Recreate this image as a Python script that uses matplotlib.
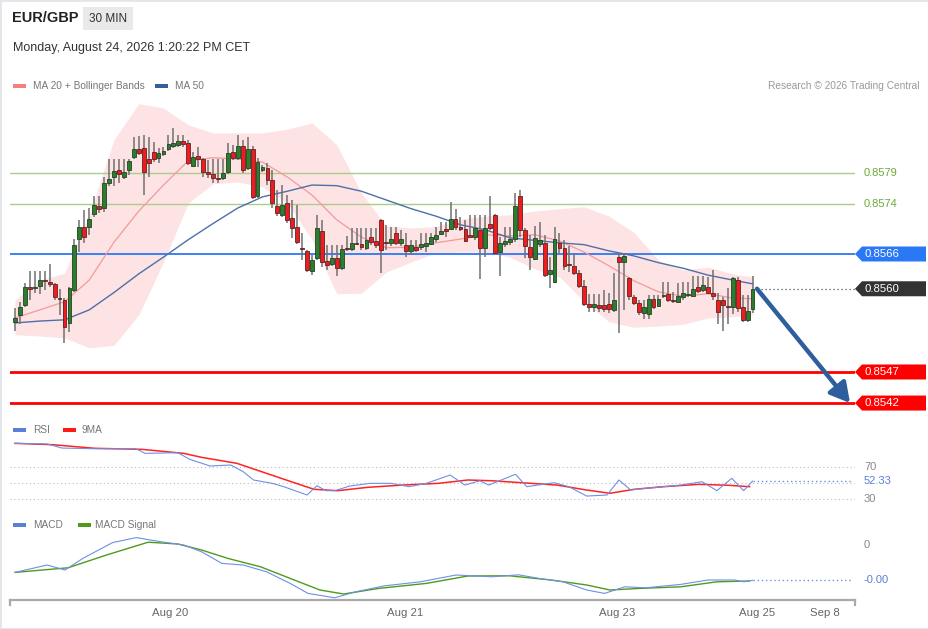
import numpy as np
import matplotlib
matplotlib.use('Agg')
import matplotlib.pyplot as plt
from matplotlib.patches import Rectangle, Polygon

plt.rcParams['font.family'] = ['Liberation Sans', 'DejaVu Sans']

# ---------------- data (30 min candles) ----------------
opens = [0.85551, 0.85562, 0.85578, 0.85607, 0.85605, 0.85609, 0.85617, 0.85615, 0.85612, 0.85589,
         0.85586, 0.85549, 0.85602, 0.85684, 0.85704, 0.85704, 0.85724, 0.85737, 0.85734, 0.85774,
         0.85784, 0.85795, 0.85784, 0.85795, 0.85816, 0.85829, 0.85831, 0.85813, 0.85824, 0.85815,
         0.85821, 0.85829, 0.85834, 0.85836, 0.85842, 0.85839, 0.85802, 0.85818, 0.85813, 0.85792,
         0.85789, 0.85782, 0.85782, 0.85792, 0.85824, 0.85815, 0.85834, 0.85799, 0.85829, 0.85753,
         0.85795, 0.85799, 0.85779, 0.85737, 0.85723, 0.85742, 0.85718, 0.85704, 0.85670, 0.85665,
         0.85633, 0.85654, 0.85697, 0.85649, 0.85644, 0.85654, 0.85638, 0.85670, 0.85668, 0.85678,
         0.85676, 0.85670, 0.85687, 0.85681, 0.85715, 0.85679, 0.85678, 0.85694, 0.85678, 0.85675,
         0.85665, 0.85671, 0.85671, 0.85673, 0.85676, 0.85684, 0.85692, 0.85700, 0.85700, 0.85716,
         0.85704, 0.85700, 0.85690, 0.85687, 0.85699, 0.85670, 0.85708, 0.85723, 0.85663, 0.85676,
         0.85679, 0.85684, 0.85753, 0.85699, 0.85671, 0.85652, 0.85676, 0.85678, 0.85628, 0.85615,
         0.85678, 0.85670, 0.85644, 0.85641, 0.85629, 0.85609, 0.85580, 0.85575, 0.85578, 0.85578,
         0.85580, 0.85570, 0.85655, 0.85647, 0.85621, 0.85591, 0.85581, 0.85565, 0.85563, 0.85588,
         0.85576, 0.85592, 0.85596, 0.85586, 0.85583, 0.85591, 0.85594, 0.85592, 0.85607, 0.85602,
         0.85607, 0.85597, 0.85586, 0.85586, 0.85576, 0.85575, 0.85618, 0.85575, 0.85554, 0.85571]

highs = [0.85573, 0.85583, 0.85613, 0.85633, 0.85633, 0.85633, 0.85633, 0.85644, 0.85613, 0.85604,
         0.85589, 0.85607, 0.85684, 0.85715, 0.85731, 0.85734, 0.85753, 0.85753, 0.85784, 0.85813,
         0.85813, 0.85813, 0.85813, 0.85813, 0.85848, 0.85850, 0.85852, 0.85848, 0.85840, 0.85831,
         0.85832, 0.85852, 0.85863, 0.85852, 0.85852, 0.85844, 0.85824, 0.85832, 0.85815, 0.85811,
         0.85813, 0.85813, 0.85813, 0.85839, 0.85836, 0.85852, 0.85844, 0.85848, 0.85834, 0.85815,
         0.85803, 0.85807, 0.85795, 0.85763, 0.85771, 0.85755, 0.85747, 0.85739, 0.85694, 0.85666,
         0.85658, 0.85723, 0.85715, 0.85675, 0.85675, 0.85675, 0.85675, 0.85689, 0.85702, 0.85702,
         0.85702, 0.85702, 0.85702, 0.85702, 0.85716, 0.85707, 0.85704, 0.85704, 0.85699, 0.85694,
         0.85683, 0.85683, 0.85694, 0.85694, 0.85694, 0.85704, 0.85712, 0.85712, 0.85744, 0.85733,
         0.85720, 0.85715, 0.85723, 0.85723, 0.85723, 0.85723, 0.85753, 0.85724, 0.85687, 0.85704,
         0.85704, 0.85758, 0.85763, 0.85702, 0.85691, 0.85705, 0.85712, 0.85691, 0.85655, 0.85704,
         0.85694, 0.85683, 0.85673, 0.85662, 0.85634, 0.85618, 0.85596, 0.85596, 0.85596, 0.85602,
         0.85597, 0.85629, 0.85662, 0.85662, 0.85623, 0.85594, 0.85586, 0.85586, 0.85594, 0.85594,
         0.85594, 0.85615, 0.85615, 0.85599, 0.85613, 0.85615, 0.85615, 0.85625, 0.85625, 0.85625,
         0.85623, 0.85634, 0.85597, 0.85591, 0.85605, 0.85623, 0.85623, 0.85594, 0.85594, 0.85625]

lows = [0.85536, 0.85547, 0.85575, 0.85586, 0.85597, 0.85596, 0.85602, 0.85607, 0.85586, 0.85562,
        0.85517, 0.85534, 0.85599, 0.85663, 0.85678, 0.85691, 0.85720, 0.85726, 0.85728, 0.85770,
        0.85770, 0.85774, 0.85781, 0.85787, 0.85813, 0.85819, 0.85755, 0.85784, 0.85808, 0.85807,
        0.85818, 0.85826, 0.85831, 0.85832, 0.85832, 0.85803, 0.85800, 0.85800, 0.85784, 0.85782,
        0.85774, 0.85774, 0.85779, 0.85789, 0.85811, 0.85811, 0.85790, 0.85795, 0.85749, 0.85750,
        0.85792, 0.85771, 0.85734, 0.85721, 0.85720, 0.85710, 0.85686, 0.85676, 0.85650, 0.85631,
        0.85626, 0.85650, 0.85639, 0.85634, 0.85641, 0.85625, 0.85634, 0.85665, 0.85665, 0.85675,
        0.85666, 0.85666, 0.85675, 0.85670, 0.85629, 0.85666, 0.85673, 0.85675, 0.85673, 0.85655,
        0.85658, 0.85663, 0.85666, 0.85663, 0.85675, 0.85679, 0.85691, 0.85687, 0.85699, 0.85699,
        0.85697, 0.85679, 0.85687, 0.85683, 0.85620, 0.85655, 0.85699, 0.85660, 0.85625, 0.85671,
        0.85675, 0.85679, 0.85687, 0.85654, 0.85634, 0.85650, 0.85671, 0.85623, 0.85605, 0.85613,
        0.85662, 0.85634, 0.85631, 0.85626, 0.85605, 0.85576, 0.85567, 0.85567, 0.85567, 0.85567,
        0.85565, 0.85567, 0.85533, 0.85570, 0.85586, 0.85578, 0.85562, 0.85555, 0.85555, 0.85571,
        0.85575, 0.85589, 0.85583, 0.85581, 0.85581, 0.85586, 0.85591, 0.85591, 0.85597, 0.85599,
        0.85597, 0.85586, 0.85547, 0.85536, 0.85547, 0.85563, 0.85567, 0.85551, 0.85551, 0.85565]

closes = [0.85557, 0.85575, 0.85607, 0.85604, 0.85607, 0.85618, 0.85616, 0.85612, 0.85591, 0.85588,
          0.85542, 0.85605, 0.85675, 0.85704, 0.85687, 0.85716, 0.85739, 0.85733, 0.85774, 0.85781,
          0.85794, 0.85789, 0.85792, 0.85810, 0.85829, 0.85823, 0.85792, 0.85807, 0.85813, 0.85823,
          0.85826, 0.85837, 0.85839, 0.85842, 0.85837, 0.85807, 0.85816, 0.85813, 0.85792, 0.85789,
          0.85782, 0.85781, 0.85790, 0.85823, 0.85815, 0.85834, 0.85795, 0.85829, 0.85752, 0.85808,
          0.85800, 0.85779, 0.85742, 0.85726, 0.85739, 0.85715, 0.85702, 0.85679, 0.85668, 0.85634,
          0.85650, 0.85702, 0.85647, 0.85642, 0.85654, 0.85638, 0.85668, 0.85668, 0.85678, 0.85676,
          0.85671, 0.85683, 0.85679, 0.85675, 0.85666, 0.85678, 0.85684, 0.85678, 0.85684, 0.85665,
          0.85675, 0.85666, 0.85676, 0.85678, 0.85687, 0.85691, 0.85697, 0.85697, 0.85716, 0.85704,
          0.85700, 0.85681, 0.85688, 0.85702, 0.85670, 0.85702, 0.85702, 0.85662, 0.85678, 0.85681,
          0.85684, 0.85737, 0.85699, 0.85673, 0.85655, 0.85686, 0.85683, 0.85626, 0.85634, 0.85684,
          0.85670, 0.85641, 0.85642, 0.85629, 0.85609, 0.85580, 0.85575, 0.85580, 0.85573, 0.85571,
          0.85571, 0.85586, 0.85647, 0.85657, 0.85592, 0.85581, 0.85567, 0.85575, 0.85588, 0.85575,
          0.85588, 0.85594, 0.85586, 0.85584, 0.85592, 0.85597, 0.85596, 0.85604, 0.85600, 0.85610,
          0.85597, 0.85592, 0.85567, 0.85578, 0.85575, 0.85621, 0.85573, 0.85554, 0.85568, 0.85604]

# indicator lines, sampled every 5 candles
ind_idx = [0, 5, 10, 15, 20, 25, 30, 35, 40, 45, 50, 55, 60, 65, 70, 75, 80, 85, 90, 95,
           100, 105, 110, 115, 120, 125, 130, 135, 140, 145, 149]
ma20 = [0.85557, 0.85570, 0.85583, 0.85618, 0.85679, 0.85729, 0.85771, 0.85810, 0.85815, 0.85813,
        0.85808, 0.85784, 0.85755, 0.85715, 0.85687, 0.85670, 0.85671, 0.85678, 0.85684, 0.85691,
        0.85689, 0.85691, 0.85681, 0.85663, 0.85641, 0.85617, 0.85599, 0.85592, 0.85596, 0.85589, 0.85588]
ma50 = [0.85549, 0.85552, 0.85554, 0.85570, 0.85598, 0.85628, 0.85655, 0.85683, 0.85709, 0.85734,
        0.85752, 0.85761, 0.85771, 0.85770, 0.85761, 0.85747, 0.85733, 0.85721, 0.85707, 0.85699,
        0.85686, 0.85682, 0.85678, 0.85675, 0.85665, 0.85657, 0.85646, 0.85637, 0.85626, 0.85618, 0.85612]
bb_upper = [0.85586, 0.85618, 0.85629, 0.85723, 0.85844, 0.85902, 0.85895, 0.85868, 0.85855, 0.85855,
            0.85855, 0.85861, 0.85871, 0.85836, 0.85758, 0.85705, 0.85702, 0.85704, 0.85716, 0.85721,
            0.85723, 0.85729, 0.85733, 0.85736, 0.85721, 0.85695, 0.85650, 0.85634, 0.85639, 0.85628, 0.85623]
bb_lower = [0.85530, 0.85528, 0.85525, 0.85509, 0.85513, 0.85562, 0.85647, 0.85742, 0.85773, 0.85776,
            0.85768, 0.85742, 0.85683, 0.85596, 0.85597, 0.85631, 0.85647, 0.85662, 0.85663, 0.85663,
            0.85655, 0.85636, 0.85623, 0.85583, 0.85551, 0.85542, 0.85544, 0.85547, 0.85557, 0.85559, 0.85562]

rsi_x = [0, 6.5, 9.5, 16, 24.4, 26.3, 32.9, 35.3, 39.4, 43.6, 46.1, 48.2, 52, 54.3, 59, 61, 62.8,
         64.6, 67.6, 71.7, 76, 79.6, 83.1, 87.9, 90.9, 93.9, 95.7, 101.1, 103.4, 108.9, 111.9,
         115.5, 119.6, 122, 124.4, 127.4, 131, 134.5, 138.8, 141.8, 144.8, 147.2, 149]
rsi = [98.7, 97.9, 92.9, 92.1, 92.1, 86.4, 87.2, 79.1, 70.9, 72.1, 63.9, 53.7, 49.6, 45.5, 35.3,
       46.7, 40.6, 40.6, 46.3, 49.6, 49.6, 45.5, 49.6, 59.8, 47.5, 52.8, 47.5, 60.7, 45.5, 50.4,
       45.5, 34.0, 35.3, 53.7, 41.4, 43.5, 45.5, 47.5, 51.6, 40.6, 55.8, 40.6, 52.33]
ma9_x = [0, 7.7, 16.1, 25.7, 34.1, 37.7, 44.8, 50.8, 56.8, 60.4, 65.2, 71.2, 78.3, 85.5, 91.5,
         96.3, 102.3, 109.5, 115.5, 120.2, 125.1, 131, 138.2, 144.2, 148.4]
rsi_ma9 = [98.7, 97.0, 92.6, 91.3, 86.4, 81.5, 74.2, 61.9, 49.6, 42.3, 40.6, 44.7, 47.5, 49.6, 53.7,
           52.8, 50.4, 47.5, 41.4, 37.4, 42.3, 45.5, 48.4, 47.2, 45.5]

macd_x = [0, 6.5, 10.1, 13.7, 19.7, 24.5, 29.3, 34.1, 37.7, 41.8, 46.1, 50.8, 55.6, 59.2, 64.6,
          68.8, 74.7, 81.9, 89.1, 96.3, 101.7, 105.9, 110.7, 115.5, 119.1, 123.2, 127.4, 134.5,
          140, 145.4, 147.2, 149]
macd = [-0.000137, -0.000100, -0.000125, -0.000067, 0.000012, 0.000037, 0.000017, 0.0, -0.000034,
        -0.000092, -0.000100, -0.000134, -0.000192, -0.000242, -0.000264, -0.000234, -0.000204,
        -0.000184, -0.000150, -0.000159, -0.000149, -0.000167, -0.000184, -0.000225, -0.000242,
        -0.000209, -0.000214, -0.000197, -0.000175, -0.000175, -0.000184, -0.000177]
sig_x = [0, 10.7, 18.5, 26.9, 32.9, 37.7, 43, 49.6, 55.6, 61.6, 66.4, 73.5, 83.1, 91.5, 99.9,
         108.3, 115.5, 120.2, 126.2, 134.5, 141.8, 148.4]
macd_signal = [-0.000137, -0.000114, -0.000050, 0.000014, 0.000005, -0.000025, -0.000067, -0.000109,
               -0.000167, -0.000225, -0.000245, -0.000217, -0.000192, -0.000155, -0.000154, -0.000175,
               -0.000200, -0.000225, -0.000217, -0.000209, -0.000184, -0.000180]

green_levels = [0.8579, 0.8574]
pivot = 0.8566
targets = [0.8547, 0.8542]

tick_pos = [31.3, 78.8, 121.6, 149.9, 163.6]
tick_labels = ['Aug 20', 'Aug 21', 'Aug 23', 'Aug 25', 'Sep 8']

# ---------------- layout helpers (pixel -> figure fraction) ----------------
W, H = 929, 629
fig = plt.figure(figsize=(W / 100, H / 100), dpi=100)


def fx(px):
    return px / W


def fy(py):
    return 1 - py / H


def box(left, top, right, bottom):
    return [fx(left), fy(bottom), (right - left) / W, (bottom - top) / H]


AXW = 845  # axes width in px
XLIM = (-1.01, 169.7)

ax = fig.add_axes(box(10, 95, 855, 420))
ax_rsi = fig.add_axes(box(10, 436, 855, 510))
ax_macd = fig.add_axes(box(10, 530, 855, 600))
for a in (ax, ax_rsi, ax_macd):
    a.set_autoscale_on(False)
    a.set_xlim(*XLIM)
ax.set_ylim(0.853927, 0.85916)
ax_rsi.set_ylim(16.9, 107.7)
ax_macd.set_ylim(-0.000275, 0.000075)
ax.set_axis_off()
ax_rsi.set_axis_off()

# ---------------- price panel ----------------
o = np.array(opens)
h = np.array(highs)
l = np.array(lows)
c = np.array(closes)
x = np.arange(len(c))
up = c >= o

ax.fill_between(ind_idx, bb_lower, bb_upper, color='#fde3e3', lw=0, zorder=1)
for lvl in green_levels:
    ax.axhline(lvl, color='#a8ce8a', lw=1, zorder=1.5)
ax.axhline(pivot, color='#2b78f7', lw=1.3, zorder=1.5)
for lvl in targets:
    ax.axhline(lvl, color='#ff0000', lw=2, zorder=1.5)

ax.plot(ind_idx, ma20, color='#f49a9a', lw=0.9, zorder=2)
ax.plot(ind_idx, ma50, color='#4d70a8', lw=1.0, zorder=2)

ax.vlines(x, l, h, color='#707070', lw=1.1, zorder=3)
body_bot = np.minimum(o, c)
body_h = np.maximum(np.abs(c - o), 0.000016)
ax.bar(x[up], body_h[up], bottom=body_bot[up], width=0.78, color='#2a7f2a',
       edgecolor='#26402a', lw=0.6, zorder=4)
ax.bar(x[~up], body_h[~up], bottom=body_bot[~up], width=0.78, color='#ee1c1c',
       edgecolor='#5e2323', lw=0.6, zorder=4)

last = c[-1]
ax.plot([x[-1] + 0.9, XLIM[1]], [last, last], ls=(0, (1, 2.2)), color='#555555', lw=0.9, zorder=3)
ax.annotate('', xy=(168.7, targets[1]), xytext=(x[-1] + 0.9, last),
            arrowprops=dict(arrowstyle='-|>,head_length=0.9,head_width=0.5', color='#2e5e9c',
                            lw=3.2, shrinkA=0, shrinkB=0, mutation_scale=13), zorder=5)

ytr = ax.get_yaxis_transform()
ppx = (ax.get_ylim()[1] - ax.get_ylim()[0]) / 325.0  # price per pixel


def tag(level, text, face):
    hh = 7.5 * ppx
    pts = [(1.0, level), (1 + 7 / AXW, level + hh), (1 + 71 / AXW, level + hh),
           (1 + 71 / AXW, level - hh), (1 + 7 / AXW, level - hh)]
    ax.add_patch(Polygon(pts, closed=True, transform=ytr, facecolor=face, edgecolor='none',
                         clip_on=False, zorder=6))
    ax.text(1 + 10 / AXW, level, text, transform=ytr, color='white', fontsize=8.2,
            va='center', ha='left', clip_on=False, zorder=7)


for lvl in green_levels:
    ax.text(1 + 9 / AXW, lvl, f'{lvl:.4f}', transform=ytr, color='#6aaa36', fontsize=8,
            va='center', ha='left', clip_on=False)
tag(pivot, f'{pivot:.4f}', '#2b78f7')
tag(last, f'{last:.4f}', '#333333')
for lvl in targets:
    tag(lvl, f'{lvl:.4f}', '#ff0000')

# ---------------- RSI panel ----------------
for lvl in (70, 50, 30):
    ax_rsi.axhline(lvl, color='#bdbdbd', ls=(0, (1, 2.5)), lw=0.8, zorder=1)
ax_rsi.plot(rsi_x, rsi, color='#6f8fe6', lw=0.8, zorder=3)
ax_rsi.plot(ma9_x, rsi_ma9, color='#ff2222', lw=1.1, zorder=2)
ax_rsi.plot([rsi_x[-1], XLIM[1] - 0.5], [rsi[-1], rsi[-1]], color='#6f8fe6', ls=(0, (1, 2)), lw=1)
rtr = ax_rsi.get_yaxis_transform()
for lvl in (70, 30):
    ax_rsi.text(1 + 9 / AXW, lvl, str(lvl), transform=rtr, color='#888888', fontsize=8,
                va='center', ha='left', clip_on=False)
ax_rsi.text(1 + 9 / AXW, rsi[-1], f'{rsi[-1]:.2f}', transform=rtr, color='#5b7fd6', fontsize=8,
            va='center', ha='left', clip_on=False)

# ---------------- MACD panel ----------------
ax_macd.plot(sig_x, macd_signal, color='#4f9a1e', lw=1.0, zorder=2)
ax_macd.plot(macd_x, macd, color='#6f8fe6', lw=0.8, zorder=3)
ax_macd.plot([macd_x[-1], XLIM[1] - 0.5], [macd[-1], macd[-1]], color='#6f8fe6', ls=(0, (1, 2)), lw=1)
mtr = ax_macd.get_yaxis_transform()
ax_macd.text(1 + 9 / AXW, 0, '0', transform=mtr, color='#888888', fontsize=8,
             va='center', ha='left', clip_on=False)
ax_macd.text(1 + 9 / AXW, macd[-1], f'{macd[-1]:.2f}', transform=mtr, color='#5b7fd6', fontsize=8,
             va='center', ha='left', clip_on=False)

for s in ('top', 'left', 'right'):
    ax_macd.spines[s].set_visible(False)
ax_macd.spines['bottom'].set_color('#aaaaaa')
ax_macd.spines['bottom'].set_linewidth(1.6)
ax_macd.set_yticks([])
ax_macd.set_xticks(tick_pos, tick_labels)
ax_macd.tick_params(axis='x', length=0, pad=6, labelcolor='#666666', labelsize=8.2)
for xe in (0, 1):
    ax_macd.plot([xe, xe], [0, -0.07], transform=ax_macd.transAxes, color='#aaaaaa', lw=1.6,
                 clip_on=False)

# ---------------- header, legends, frame ----------------
fig.text(fx(12), fy(18), 'EUR/GBP', fontsize=10.5, fontweight='bold', color='#222222', va='center')
fig.patches.append(Rectangle((fx(83), fy(30)), 50 / W, 23 / H, transform=fig.transFigure,
                             facecolor='#e9e9e9', edgecolor='none'))
fig.text(fx(108), fy(19), '30 MIN', fontsize=8.5, color='#333333', ha='center', va='center')
fig.text(fx(13), fy(48), 'Monday, August 24, 2026 1:20:22 PM CET', fontsize=9, color='#333333',
         va='center')


def legend_item(px, py, color, label, tx):
    fig.patches.append(Rectangle((fx(px), fy(py + 2)), 13 / W, 4 / H, transform=fig.transFigure,
                                 facecolor=color, edgecolor='none'))
    fig.text(fx(tx), fy(py), label, fontsize=7.3, color='#777777', va='center')


legend_item(13, 86, '#f77f7f', 'MA 20 + Bollinger Bands', 33)
legend_item(155, 86, '#33609c', 'MA 50', 175)
fig.text(fx(920), fy(86), 'Research \u00a9 2026 Trading Central', fontsize=7.3, color='#999999',
         ha='right', va='center')
legend_item(13, 430, '#5a7fd8', 'RSI', 33)
legend_item(63, 430, '#ff1a1a', '9MA', 82)
legend_item(13, 525, '#5a7fd8', 'MACD', 33)
legend_item(78, 525, '#4d9a1c', 'MACD Signal', 95)

fig.patches.append(Rectangle((0, 0), 1, 1, transform=fig.transFigure, fill=False,
                             edgecolor='#e2e6ea', lw=2))

fig.savefig('out.png', dpi=100)
